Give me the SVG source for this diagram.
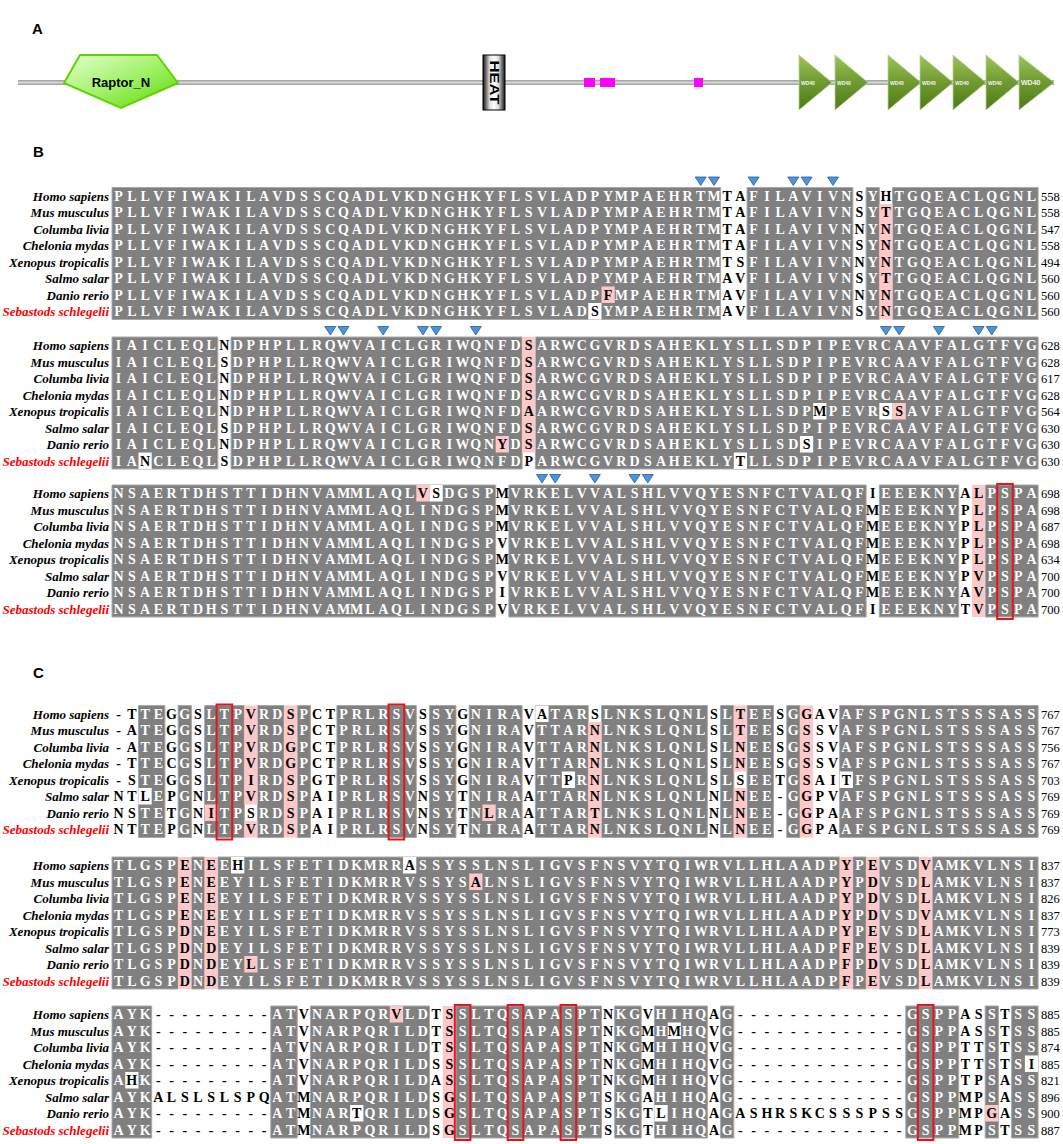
<svg xmlns="http://www.w3.org/2000/svg" xmlns:xlink="http://www.w3.org/1999/xlink" width="1063" height="1144" viewBox="0 0 1063 1144">
<style>
.lab{font:bold 15px "Liberation Sans",Arial,sans-serif;fill:#000}
.n{font:italic bold 13px "Liberation Serif","Times New Roman",serif;text-anchor:end;fill:#000}
.r{fill:#ff0000}
.s{font:bold 14px "Liberation Serif","Times New Roman",serif;fill:#fff;text-anchor:middle}
.k{fill:#000}
.num{font:12.5px "Liberation Serif","Times New Roman",serif;fill:#000}
.g{fill:#808080;stroke:#a8a8a8;stroke-width:1;vector-effect:non-scaling-stroke}
.p{fill:#fcc8c8}
.w{fill:#fff}
.box{fill:none;stroke:#e8141b;stroke-width:2}
.tri{fill:#4a94da;stroke:#2b5c9a;stroke-width:0.8}
.wd{fill:url(#gWD);stroke:#b9d48e;stroke-width:0.8}
.wdt{font:bold 5px "Liberation Sans",Arial,sans-serif;fill:#f2f2f2}
</style>
<defs>
<linearGradient id="gLine" x1="0" y1="0" x2="0" y2="1"><stop offset="0" stop-color="#9a9a9a"/><stop offset="0.5" stop-color="#d6d6d6"/><stop offset="1" stop-color="#9a9a9a"/></linearGradient>
<linearGradient id="gRap" x1="0" y1="0" x2="1" y2="1"><stop offset="0" stop-color="#e4ffd0"/><stop offset="0.55" stop-color="#9cf060"/><stop offset="1" stop-color="#5cd400"/></linearGradient>
<linearGradient id="gHeat" x1="0" y1="0" x2="1" y2="0"><stop offset="0" stop-color="#111"/><stop offset="0.3" stop-color="#ddd"/><stop offset="0.5" stop-color="#fff"/><stop offset="0.7" stop-color="#ddd"/><stop offset="1" stop-color="#111"/></linearGradient>
<linearGradient id="gWD" x1="0" y1="0" x2="0" y2="1"><stop offset="0" stop-color="#9cc45a"/><stop offset="0.5" stop-color="#6f9a30"/><stop offset="1" stop-color="#4d7a18"/></linearGradient>
<path id="tv" class="tri" d="M-5.5,-4 H5.5 L0,4.5 Z"/>
<g id="nm" class="n">
<text x="109" y="13">Homo sapiens</text>
<text x="109" y="29.5">Mus musculus</text>
<text x="109" y="46">Columba livia</text>
<text x="109" y="62.5">Chelonia mydas</text>
<text x="109" y="79">Xenopus tropicalis</text>
<text x="109" y="95.5">Salmo salar</text>
<text x="109" y="112">Danio rerio</text>
<text x="109" y="128.5" class="r">Sebastods schlegelii</text>
</g>
</defs>
<rect width="1063" height="1144" fill="#fff"/>

<!-- Panel A -->
<g id="panelA">
<text class="lab" x="32" y="34">A</text>
<rect id="backbone" x="18" y="80" width="1036" height="5" fill="url(#gLine)"/>
<g id="raptor">
<polygon points="80,55 157,55 178,83 121,108 64,83" fill="url(#gRap)" stroke="#5fd400" stroke-width="2"/>
<text x="121" y="87" text-anchor="middle" style="font:bold 13px 'Liberation Sans',Arial,sans-serif">Raptor_N</text>
</g>
<g id="heat">
<rect x="483" y="55" width="22" height="55" fill="url(#gHeat)" stroke="#000" stroke-width="1"/>
<text transform="translate(494,82.5) rotate(90)" x="0" y="4.5" text-anchor="middle" textLength="44" lengthAdjust="spacingAndGlyphs" style="font:bold 13px 'Liberation Sans',Arial,sans-serif">HEAT</text>
</g>
<g id="motifs" fill="#ff00ff">
<rect x="584" y="78" width="11" height="9"/>
<rect x="600" y="78" width="15" height="9"/>
<rect x="694" y="78" width="9" height="9"/>
</g>
<g id="wd40">
<polygon class="wd" points="799,55 832,82.5 799,110"/>
<polygon class="wd" points="835,55 868,82.5 835,110"/>
<polygon class="wd" points="888,55 921,82.5 888,110"/>
<polygon class="wd" points="920,55 953,82.5 920,110"/>
<polygon class="wd" points="953,55 986,82.5 953,110"/>
<polygon class="wd" points="986,55 1019,82.5 986,110"/>
<polygon class="wd" points="1019,55 1054,82.5 1019,110"/>
<text class="wdt" x="801" y="84.5">WD40</text>
<text class="wdt" x="837" y="84.5">WD40</text>
<text class="wdt" x="890" y="84.5">WD40</text>
<text class="wdt" x="922" y="84.5">WD40</text>
<text class="wdt" x="955" y="84.5">WD40</text>
<text class="wdt" x="988" y="84.5">WD40</text>
<text class="wdt" x="1021" y="85" style="font-size:7px">WD40</text>
</g>
</g>

<text class="lab" x="33" y="157">B</text>
<text class="lab" x="33" y="678">C</text>

<!-- Block B1 -->
<g id="B1" transform="translate(0,187.5)">
<g transform="translate(112,0) scale(13.23,16.5)">
<rect class="g" x="0" y="0" width="46" height="8"/>
<rect class="g" x="48" y="0" width="8" height="8"/>
<rect class="g" x="57" y="0" width="1" height="8"/>
<rect class="g" x="59" y="0" width="11" height="8"/>
<rect class="p" x="58" y="1" width="1" height="7"/>
<rect class="p" x="37" y="6" width="1" height="1"/>
<rect class="w" x="36" y="7" width="1" height="1"/>
</g>
<use href="#nm"/>
<g id="B1tri">
<use href="#tv" x="700.7" y="-6.5"/><use href="#tv" x="714" y="-6.5"/><use href="#tv" x="753.6" y="-6.5"/><use href="#tv" x="793.3" y="-6.5"/><use href="#tv" x="806.6" y="-6.5"/><use href="#tv" x="833" y="-6.5"/>
</g>
<text class="s" y="13" x="118.6 131.8 145.1 158.3 171.5 184.8 198 211.2 224.4 237.7 250.9 264.1 277.4 290.6 303.8 317.1 330.3 343.5 356.7 370 383.2 396.4 409.7 422.9 436.1 449.4 462.6 475.8 489 502.3 515.5 528.7 542 555.2 568.4 581.7 594.9 608.1 621.3 634.6 647.8 661 674.3 687.5 700.7 714 727.2 740.4 753.6 766.9 780.1 793.3 806.6 819.8 833 846.3 859.5 872.7 885.9 899.2 912.4 925.6 938.9 952.1 965.3 978.6 991.8 1005 1018.2 1031.5">PLLVFIWAKILAVDSSCQADLVKDNGHKYFLSVLADPYMPAEHRTM<tspan class="k">TA</tspan>FILAVIVN<tspan class="k">S</tspan>Y<tspan class="k">H</tspan>TGQEACLQGNL</text>
<text class="s" y="29.5" x="118.6 131.8 145.1 158.3 171.5 184.8 198 211.2 224.4 237.7 250.9 264.1 277.4 290.6 303.8 317.1 330.3 343.5 356.7 370 383.2 396.4 409.7 422.9 436.1 449.4 462.6 475.8 489 502.3 515.5 528.7 542 555.2 568.4 581.7 594.9 608.1 621.3 634.6 647.8 661 674.3 687.5 700.7 714 727.2 740.4 753.6 766.9 780.1 793.3 806.6 819.8 833 846.3 859.5 872.7 885.9 899.2 912.4 925.6 938.9 952.1 965.3 978.6 991.8 1005 1018.2 1031.5">PLLVFIWAKILAVDSSCQADLVKDNGHKYFLSVLADPYMPAEHRTM<tspan class="k">TA</tspan>FILAVIVN<tspan class="k">S</tspan>Y<tspan class="k">T</tspan>TGQEACLQGNL</text>
<text class="s" y="46" x="118.6 131.8 145.1 158.3 171.5 184.8 198 211.2 224.4 237.7 250.9 264.1 277.4 290.6 303.8 317.1 330.3 343.5 356.7 370 383.2 396.4 409.7 422.9 436.1 449.4 462.6 475.8 489 502.3 515.5 528.7 542 555.2 568.4 581.7 594.9 608.1 621.3 634.6 647.8 661 674.3 687.5 700.7 714 727.2 740.4 753.6 766.9 780.1 793.3 806.6 819.8 833 846.3 859.5 872.7 885.9 899.2 912.4 925.6 938.9 952.1 965.3 978.6 991.8 1005 1018.2 1031.5">PLLVFIWAKILAVDSSCQADLVKDNGHKYFLSVLADPYMPAEHRTM<tspan class="k">TA</tspan>FILAVIVN<tspan class="k">N</tspan>Y<tspan class="k">N</tspan>TGQEACLQGNL</text>
<text class="s" y="62.5" x="118.6 131.8 145.1 158.3 171.5 184.8 198 211.2 224.4 237.7 250.9 264.1 277.4 290.6 303.8 317.1 330.3 343.5 356.7 370 383.2 396.4 409.7 422.9 436.1 449.4 462.6 475.8 489 502.3 515.5 528.7 542 555.2 568.4 581.7 594.9 608.1 621.3 634.6 647.8 661 674.3 687.5 700.7 714 727.2 740.4 753.6 766.9 780.1 793.3 806.6 819.8 833 846.3 859.5 872.7 885.9 899.2 912.4 925.6 938.9 952.1 965.3 978.6 991.8 1005 1018.2 1031.5">PLLVFIWAKILAVDSSCQADLVKDNGHKYFLSVLADPYMPAEHRTM<tspan class="k">TA</tspan>FILAVIVN<tspan class="k">S</tspan>Y<tspan class="k">N</tspan>TGQEACLQGNL</text>
<text class="s" y="79" x="118.6 131.8 145.1 158.3 171.5 184.8 198 211.2 224.4 237.7 250.9 264.1 277.4 290.6 303.8 317.1 330.3 343.5 356.7 370 383.2 396.4 409.7 422.9 436.1 449.4 462.6 475.8 489 502.3 515.5 528.7 542 555.2 568.4 581.7 594.9 608.1 621.3 634.6 647.8 661 674.3 687.5 700.7 714 727.2 740.4 753.6 766.9 780.1 793.3 806.6 819.8 833 846.3 859.5 872.7 885.9 899.2 912.4 925.6 938.9 952.1 965.3 978.6 991.8 1005 1018.2 1031.5">PLLVFIWAKILAVDSSCQADLVKDNGHKYFLSVLADPYMPAEHRTM<tspan class="k">TS</tspan>FILAVIVN<tspan class="k">N</tspan>Y<tspan class="k">N</tspan>TGQEACLQGNL</text>
<text class="s" y="95.5" x="118.6 131.8 145.1 158.3 171.5 184.8 198 211.2 224.4 237.7 250.9 264.1 277.4 290.6 303.8 317.1 330.3 343.5 356.7 370 383.2 396.4 409.7 422.9 436.1 449.4 462.6 475.8 489 502.3 515.5 528.7 542 555.2 568.4 581.7 594.9 608.1 621.3 634.6 647.8 661 674.3 687.5 700.7 714 727.2 740.4 753.6 766.9 780.1 793.3 806.6 819.8 833 846.3 859.5 872.7 885.9 899.2 912.4 925.6 938.9 952.1 965.3 978.6 991.8 1005 1018.2 1031.5">PLLVFIWAKILAVDSSCQADLVKDNGHKYFLSVLADPYMPAEHRTM<tspan class="k">AV</tspan>FILAVIVN<tspan class="k">S</tspan>Y<tspan class="k">T</tspan>TGQEACLQGNL</text>
<text class="s" y="112" x="118.6 131.8 145.1 158.3 171.5 184.8 198 211.2 224.4 237.7 250.9 264.1 277.4 290.6 303.8 317.1 330.3 343.5 356.7 370 383.2 396.4 409.7 422.9 436.1 449.4 462.6 475.8 489 502.3 515.5 528.7 542 555.2 568.4 581.7 594.9 608.1 621.3 634.6 647.8 661 674.3 687.5 700.7 714 727.2 740.4 753.6 766.9 780.1 793.3 806.6 819.8 833 846.3 859.5 872.7 885.9 899.2 912.4 925.6 938.9 952.1 965.3 978.6 991.8 1005 1018.2 1031.5">PLLVFIWAKILAVDSSCQADLVKDNGHKYFLSVLADP<tspan class="k">F</tspan>MPAEHRTM<tspan class="k">AV</tspan>FILAVIVN<tspan class="k">N</tspan>Y<tspan class="k">N</tspan>TGQEACLQGNL</text>
<text class="s" y="128.5" x="118.6 131.8 145.1 158.3 171.5 184.8 198 211.2 224.4 237.7 250.9 264.1 277.4 290.6 303.8 317.1 330.3 343.5 356.7 370 383.2 396.4 409.7 422.9 436.1 449.4 462.6 475.8 489 502.3 515.5 528.7 542 555.2 568.4 581.7 594.9 608.1 621.3 634.6 647.8 661 674.3 687.5 700.7 714 727.2 740.4 753.6 766.9 780.1 793.3 806.6 819.8 833 846.3 859.5 872.7 885.9 899.2 912.4 925.6 938.9 952.1 965.3 978.6 991.8 1005 1018.2 1031.5">PLLVFIWAKILAVDSSCQADLVKDNGHKYFLSVLAD<tspan class="k">S</tspan>YMPAEHRTM<tspan class="k">AV</tspan>FILAVIVN<tspan class="k">S</tspan>Y<tspan class="k">N</tspan>TGQEACLQGNL</text>
<g class="num"><text x="1041" y="13">558</text><text x="1041" y="29.5">558</text><text x="1041" y="46">547</text><text x="1041" y="62.5">558</text><text x="1041" y="79">494</text><text x="1041" y="95.5">560</text><text x="1041" y="112">560</text><text x="1041" y="128.5">560</text></g>
</g>

<!-- Block B2 -->
<g id="B2" transform="translate(0,337)">
<g transform="translate(112,0) scale(13.23,16.5)">
<rect class="g" x="0" y="0" width="8" height="8"/>
<rect class="g" x="9" y="0" width="22" height="8"/>
<rect class="g" x="32" y="0" width="38" height="8"/>
<rect class="p" x="31" y="0" width="1" height="7"/>
<rect class="w" x="53" y="4" width="1" height="1"/>
<rect class="w" x="58" y="4" width="1" height="1"/>
<rect class="p" x="59" y="4" width="1" height="1"/>
<rect class="p" x="29" y="6" width="1" height="1"/>
<rect class="w" x="52" y="6" width="1" height="1"/>
<rect class="w" x="2" y="7" width="1" height="1"/>
<rect class="w" x="47" y="7" width="1" height="1"/>
</g>
<use href="#nm"/>
<g id="B2tri">
<use href="#tv" x="330.3" y="-6.5"/><use href="#tv" x="343.5" y="-6.5"/><use href="#tv" x="383.2" y="-6.5"/><use href="#tv" x="422.9" y="-6.5"/><use href="#tv" x="436.1" y="-6.5"/><use href="#tv" x="475.8" y="-6.5"/><use href="#tv" x="885.9" y="-6.5"/><use href="#tv" x="899.2" y="-6.5"/><use href="#tv" x="938.9" y="-6.5"/><use href="#tv" x="978.6" y="-6.5"/><use href="#tv" x="991.8" y="-6.5"/>
</g>
<text class="s" y="13" x="118.6 131.8 145.1 158.3 171.5 184.8 198 211.2 224.4 237.7 250.9 264.1 277.4 290.6 303.8 317.1 330.3 343.5 356.7 370 383.2 396.4 409.7 422.9 436.1 449.4 462.6 475.8 489 502.3 515.5 528.7 542 555.2 568.4 581.7 594.9 608.1 621.3 634.6 647.8 661 674.3 687.5 700.7 714 727.2 740.4 753.6 766.9 780.1 793.3 806.6 819.8 833 846.3 859.5 872.7 885.9 899.2 912.4 925.6 938.9 952.1 965.3 978.6 991.8 1005 1018.2 1031.5">IAICLEQL<tspan class="k">N</tspan>DPHPLLRQWVAICLGRIWQNFD<tspan class="k">S</tspan>ARWCGVRDSAHEKLYSLLSDPIPEVRCAAVFALGTFVG</text>
<text class="s" y="29.5" x="118.6 131.8 145.1 158.3 171.5 184.8 198 211.2 224.4 237.7 250.9 264.1 277.4 290.6 303.8 317.1 330.3 343.5 356.7 370 383.2 396.4 409.7 422.9 436.1 449.4 462.6 475.8 489 502.3 515.5 528.7 542 555.2 568.4 581.7 594.9 608.1 621.3 634.6 647.8 661 674.3 687.5 700.7 714 727.2 740.4 753.6 766.9 780.1 793.3 806.6 819.8 833 846.3 859.5 872.7 885.9 899.2 912.4 925.6 938.9 952.1 965.3 978.6 991.8 1005 1018.2 1031.5">IAICLEQL<tspan class="k">S</tspan>DPHPLLRQWVAICLGRIWQNFD<tspan class="k">S</tspan>ARWCGVRDSAHEKLYSLLSDPIPEVRCAAVFALGTFVG</text>
<text class="s" y="46" x="118.6 131.8 145.1 158.3 171.5 184.8 198 211.2 224.4 237.7 250.9 264.1 277.4 290.6 303.8 317.1 330.3 343.5 356.7 370 383.2 396.4 409.7 422.9 436.1 449.4 462.6 475.8 489 502.3 515.5 528.7 542 555.2 568.4 581.7 594.9 608.1 621.3 634.6 647.8 661 674.3 687.5 700.7 714 727.2 740.4 753.6 766.9 780.1 793.3 806.6 819.8 833 846.3 859.5 872.7 885.9 899.2 912.4 925.6 938.9 952.1 965.3 978.6 991.8 1005 1018.2 1031.5">IAICLEQL<tspan class="k">N</tspan>DPHPLLRQWVAICLGRIWQNFD<tspan class="k">S</tspan>ARWCGVRDSAHEKLYSLLSDPIPEVRCAAVFALGTFVG</text>
<text class="s" y="62.5" x="118.6 131.8 145.1 158.3 171.5 184.8 198 211.2 224.4 237.7 250.9 264.1 277.4 290.6 303.8 317.1 330.3 343.5 356.7 370 383.2 396.4 409.7 422.9 436.1 449.4 462.6 475.8 489 502.3 515.5 528.7 542 555.2 568.4 581.7 594.9 608.1 621.3 634.6 647.8 661 674.3 687.5 700.7 714 727.2 740.4 753.6 766.9 780.1 793.3 806.6 819.8 833 846.3 859.5 872.7 885.9 899.2 912.4 925.6 938.9 952.1 965.3 978.6 991.8 1005 1018.2 1031.5">IAICLEQL<tspan class="k">N</tspan>DPHPLLRQWVAICLGRIWQNFD<tspan class="k">S</tspan>ARWCGVRDSAHEKLYSLLSDPIPEVRCAAVFALGTFVG</text>
<text class="s" y="79" x="118.6 131.8 145.1 158.3 171.5 184.8 198 211.2 224.4 237.7 250.9 264.1 277.4 290.6 303.8 317.1 330.3 343.5 356.7 370 383.2 396.4 409.7 422.9 436.1 449.4 462.6 475.8 489 502.3 515.5 528.7 542 555.2 568.4 581.7 594.9 608.1 621.3 634.6 647.8 661 674.3 687.5 700.7 714 727.2 740.4 753.6 766.9 780.1 793.3 806.6 819.8 833 846.3 859.5 872.7 885.9 899.2 912.4 925.6 938.9 952.1 965.3 978.6 991.8 1005 1018.2 1031.5">IAICLEQL<tspan class="k">N</tspan>DPHPLLRQWVAICLGRIWQNFD<tspan class="k">A</tspan>ARWCGVRDSAHEKLYSLLSDP<tspan class="k">M</tspan>PEVR<tspan class="k">SS</tspan>AVFALGTFVG</text>
<text class="s" y="95.5" x="118.6 131.8 145.1 158.3 171.5 184.8 198 211.2 224.4 237.7 250.9 264.1 277.4 290.6 303.8 317.1 330.3 343.5 356.7 370 383.2 396.4 409.7 422.9 436.1 449.4 462.6 475.8 489 502.3 515.5 528.7 542 555.2 568.4 581.7 594.9 608.1 621.3 634.6 647.8 661 674.3 687.5 700.7 714 727.2 740.4 753.6 766.9 780.1 793.3 806.6 819.8 833 846.3 859.5 872.7 885.9 899.2 912.4 925.6 938.9 952.1 965.3 978.6 991.8 1005 1018.2 1031.5">IAICLEQL<tspan class="k">S</tspan>DPHPLLRQWVAICLGRIWQNFD<tspan class="k">S</tspan>ARWCGVRDSAHEKLYSLLSDPIPEVRCAAVFALGTFVG</text>
<text class="s" y="112" x="118.6 131.8 145.1 158.3 171.5 184.8 198 211.2 224.4 237.7 250.9 264.1 277.4 290.6 303.8 317.1 330.3 343.5 356.7 370 383.2 396.4 409.7 422.9 436.1 449.4 462.6 475.8 489 502.3 515.5 528.7 542 555.2 568.4 581.7 594.9 608.1 621.3 634.6 647.8 661 674.3 687.5 700.7 714 727.2 740.4 753.6 766.9 780.1 793.3 806.6 819.8 833 846.3 859.5 872.7 885.9 899.2 912.4 925.6 938.9 952.1 965.3 978.6 991.8 1005 1018.2 1031.5">IAICLEQL<tspan class="k">N</tspan>DPHPLLRQWVAICLGRIWQN<tspan class="k">Y</tspan>D<tspan class="k">S</tspan>ARWCGVRDSAHEKLYSLLSD<tspan class="k">S</tspan>IPEVRCAAVFALGTFVG</text>
<text class="s" y="128.5" x="118.6 131.8 145.1 158.3 171.5 184.8 198 211.2 224.4 237.7 250.9 264.1 277.4 290.6 303.8 317.1 330.3 343.5 356.7 370 383.2 396.4 409.7 422.9 436.1 449.4 462.6 475.8 489 502.3 515.5 528.7 542 555.2 568.4 581.7 594.9 608.1 621.3 634.6 647.8 661 674.3 687.5 700.7 714 727.2 740.4 753.6 766.9 780.1 793.3 806.6 819.8 833 846.3 859.5 872.7 885.9 899.2 912.4 925.6 938.9 952.1 965.3 978.6 991.8 1005 1018.2 1031.5">IA<tspan class="k">N</tspan>CLEQL<tspan class="k">S</tspan>DPHPLLRQWVAICLGRIWQNFD<tspan class="k">P</tspan>ARWCGVRDSAHEKLY<tspan class="k">T</tspan>LLSDPIPEVRCAAVFALGTFVG</text>
<g class="num"><text x="1041" y="13">628</text><text x="1041" y="29.5">628</text><text x="1041" y="46">617</text><text x="1041" y="62.5">628</text><text x="1041" y="79">564</text><text x="1041" y="95.5">630</text><text x="1041" y="112">630</text><text x="1041" y="128.5">630</text></g>
</g>

<!-- Block B3 -->
<g id="B3" transform="translate(0,485)">
<g transform="translate(112,0) scale(13.23,16.5)">
<rect class="g" x="0" y="0" width="29" height="8"/>
<rect class="g" x="30" y="0" width="27" height="8"/>
<rect class="g" x="58" y="0" width="6" height="8"/>
<rect class="g" x="66" y="0" width="4" height="8"/>
<rect class="p" x="65" y="0" width="1" height="8"/>
<rect class="p" x="23" y="0" width="1" height="1"/>
<rect class="w" x="24" y="0" width="1" height="1"/>
</g>
<use href="#nm"/>
<g id="B3tri">
<use href="#tv" x="542" y="-6.5"/><use href="#tv" x="555.2" y="-6.5"/><use href="#tv" x="594.9" y="-6.5"/><use href="#tv" x="634.6" y="-6.5"/><use href="#tv" x="647.8" y="-6.5"/>
</g>
<text class="s" y="13" x="118.6 131.8 145.1 158.3 171.5 184.8 198 211.2 224.4 237.7 250.9 264.1 277.4 290.6 303.8 317.1 330.3 343.5 356.7 370 383.2 396.4 409.7 422.9 436.1 449.4 462.6 475.8 489 502.3 515.5 528.7 542 555.2 568.4 581.7 594.9 608.1 621.3 634.6 647.8 661 674.3 687.5 700.7 714 727.2 740.4 753.6 766.9 780.1 793.3 806.6 819.8 833 846.3 859.5 872.7 885.9 899.2 912.4 925.6 938.9 952.1 965.3 978.6 991.8 1005 1018.2 1031.5">NSAERTDHSTTIDHNVAMMLAQL<tspan class="k">VS</tspan>DGSP<tspan class="k">M</tspan>VRKELVVALSHLVVQYESNFCTVALQF<tspan class="k">I</tspan>EEEKNY<tspan class="k">AL</tspan>PSPA</text>
<text class="s" y="29.5" x="118.6 131.8 145.1 158.3 171.5 184.8 198 211.2 224.4 237.7 250.9 264.1 277.4 290.6 303.8 317.1 330.3 343.5 356.7 370 383.2 396.4 409.7 422.9 436.1 449.4 462.6 475.8 489 502.3 515.5 528.7 542 555.2 568.4 581.7 594.9 608.1 621.3 634.6 647.8 661 674.3 687.5 700.7 714 727.2 740.4 753.6 766.9 780.1 793.3 806.6 819.8 833 846.3 859.5 872.7 885.9 899.2 912.4 925.6 938.9 952.1 965.3 978.6 991.8 1005 1018.2 1031.5">NSAERTDHSTTIDHNVAMMLAQLINDGSP<tspan class="k">M</tspan>VRKELVVALSHLVVQYESNFCTVALQF<tspan class="k">M</tspan>EEEKNY<tspan class="k">PL</tspan>PSPA</text>
<text class="s" y="46" x="118.6 131.8 145.1 158.3 171.5 184.8 198 211.2 224.4 237.7 250.9 264.1 277.4 290.6 303.8 317.1 330.3 343.5 356.7 370 383.2 396.4 409.7 422.9 436.1 449.4 462.6 475.8 489 502.3 515.5 528.7 542 555.2 568.4 581.7 594.9 608.1 621.3 634.6 647.8 661 674.3 687.5 700.7 714 727.2 740.4 753.6 766.9 780.1 793.3 806.6 819.8 833 846.3 859.5 872.7 885.9 899.2 912.4 925.6 938.9 952.1 965.3 978.6 991.8 1005 1018.2 1031.5">NSAERTDHSTTIDHNVAMMLAQLINDGSP<tspan class="k">M</tspan>VRKELVVALSHLVVQYESNFCTVALQF<tspan class="k">M</tspan>EEEKNY<tspan class="k">PL</tspan>PSPA</text>
<text class="s" y="62.5" x="118.6 131.8 145.1 158.3 171.5 184.8 198 211.2 224.4 237.7 250.9 264.1 277.4 290.6 303.8 317.1 330.3 343.5 356.7 370 383.2 396.4 409.7 422.9 436.1 449.4 462.6 475.8 489 502.3 515.5 528.7 542 555.2 568.4 581.7 594.9 608.1 621.3 634.6 647.8 661 674.3 687.5 700.7 714 727.2 740.4 753.6 766.9 780.1 793.3 806.6 819.8 833 846.3 859.5 872.7 885.9 899.2 912.4 925.6 938.9 952.1 965.3 978.6 991.8 1005 1018.2 1031.5">NSAERTDHSTTIDHNVAMMLAQLINDGSP<tspan class="k">V</tspan>VRKELVVALSHLVVQYESNFCTVALQF<tspan class="k">M</tspan>EEEKNY<tspan class="k">PL</tspan>PSPA</text>
<text class="s" y="79" x="118.6 131.8 145.1 158.3 171.5 184.8 198 211.2 224.4 237.7 250.9 264.1 277.4 290.6 303.8 317.1 330.3 343.5 356.7 370 383.2 396.4 409.7 422.9 436.1 449.4 462.6 475.8 489 502.3 515.5 528.7 542 555.2 568.4 581.7 594.9 608.1 621.3 634.6 647.8 661 674.3 687.5 700.7 714 727.2 740.4 753.6 766.9 780.1 793.3 806.6 819.8 833 846.3 859.5 872.7 885.9 899.2 912.4 925.6 938.9 952.1 965.3 978.6 991.8 1005 1018.2 1031.5">NSAERTDHSTTIDHNVAMMLAQLINDGSP<tspan class="k">M</tspan>VRKELVVALSHLVVQYESNFCTVALQF<tspan class="k">M</tspan>EEEKNY<tspan class="k">PL</tspan>PSPA</text>
<text class="s" y="95.5" x="118.6 131.8 145.1 158.3 171.5 184.8 198 211.2 224.4 237.7 250.9 264.1 277.4 290.6 303.8 317.1 330.3 343.5 356.7 370 383.2 396.4 409.7 422.9 436.1 449.4 462.6 475.8 489 502.3 515.5 528.7 542 555.2 568.4 581.7 594.9 608.1 621.3 634.6 647.8 661 674.3 687.5 700.7 714 727.2 740.4 753.6 766.9 780.1 793.3 806.6 819.8 833 846.3 859.5 872.7 885.9 899.2 912.4 925.6 938.9 952.1 965.3 978.6 991.8 1005 1018.2 1031.5">NSAERTDHSTTIDHNVAMMLAQLINDGSP<tspan class="k">V</tspan>VRKELVVALSHLVVQYESNFCTVALQF<tspan class="k">M</tspan>EEEKNY<tspan class="k">PV</tspan>PSPA</text>
<text class="s" y="112" x="118.6 131.8 145.1 158.3 171.5 184.8 198 211.2 224.4 237.7 250.9 264.1 277.4 290.6 303.8 317.1 330.3 343.5 356.7 370 383.2 396.4 409.7 422.9 436.1 449.4 462.6 475.8 489 502.3 515.5 528.7 542 555.2 568.4 581.7 594.9 608.1 621.3 634.6 647.8 661 674.3 687.5 700.7 714 727.2 740.4 753.6 766.9 780.1 793.3 806.6 819.8 833 846.3 859.5 872.7 885.9 899.2 912.4 925.6 938.9 952.1 965.3 978.6 991.8 1005 1018.2 1031.5">NSAERTDHSTTIDHNVAMMLAQLINDGSP<tspan class="k">I</tspan>VRKELVVALSHLVVQYESNFCTVALQF<tspan class="k">M</tspan>EEEKNY<tspan class="k">AV</tspan>PSPA</text>
<text class="s" y="128.5" x="118.6 131.8 145.1 158.3 171.5 184.8 198 211.2 224.4 237.7 250.9 264.1 277.4 290.6 303.8 317.1 330.3 343.5 356.7 370 383.2 396.4 409.7 422.9 436.1 449.4 462.6 475.8 489 502.3 515.5 528.7 542 555.2 568.4 581.7 594.9 608.1 621.3 634.6 647.8 661 674.3 687.5 700.7 714 727.2 740.4 753.6 766.9 780.1 793.3 806.6 819.8 833 846.3 859.5 872.7 885.9 899.2 912.4 925.6 938.9 952.1 965.3 978.6 991.8 1005 1018.2 1031.5">NSAERTDHSTTIDHNVAMMLAQLINDGSP<tspan class="k">V</tspan>VRKELVVALSHLVVQYESNFCTVALQF<tspan class="k">I</tspan>EEEKNY<tspan class="k">TV</tspan>PSPA</text>
<g class="num"><text x="1041" y="13">698</text><text x="1041" y="29.5">698</text><text x="1041" y="46">687</text><text x="1041" y="62.5">698</text><text x="1041" y="79">634</text><text x="1041" y="95.5">700</text><text x="1041" y="112">700</text><text x="1041" y="128.5">700</text></g>
<rect class="box" x="997.2" y="-1" width="15.6" height="135"/>
</g>

<!-- Block C1 -->
<g id="C1" transform="translate(0,705.5)">
<g transform="translate(112,0) scale(13.23,16.5)">
<rect class="g" x="2" y="0" width="2" height="8"/>
<rect class="g" x="5" y="0" width="1" height="8"/>
<rect class="g" x="7" y="0" width="3" height="8"/>
<rect class="g" x="11" y="0" width="2" height="8"/>
<rect class="g" x="14" y="0" width="1" height="8"/>
<rect class="g" x="17" y="0" width="6" height="8"/>
<rect class="g" x="24" y="0" width="2" height="8"/>
<rect class="g" x="27" y="0" width="4" height="8"/>
<rect class="g" x="32" y="0" width="4" height="8"/>
<rect class="g" x="37" y="0" width="8" height="8"/>
<rect class="g" x="46" y="0" width="1" height="8"/>
<rect class="g" x="48" y="0" width="2" height="8"/>
<rect class="g" x="51" y="0" width="1" height="8"/>
<rect class="g" x="55" y="0" width="15" height="8"/>
<rect class="p" x="10" y="0" width="1" height="6"/>
<rect class="p" x="10" y="7" width="1" height="1"/>
<rect class="p" x="13" y="0" width="1" height="8"/>
<rect class="p" x="36" y="1" width="1" height="7"/>
<rect class="p" x="47" y="0" width="1" height="4"/>
<rect class="p" x="47" y="5" width="1" height="3"/>
<rect class="p" x="52" y="0" width="1" height="8"/>
<rect class="w" x="2" y="5" width="1" height="1"/>
<rect class="p" x="7" y="6" width="1" height="1"/>
<rect class="p" x="28" y="6" width="1" height="1"/>
<rect class="w" x="32" y="0" width="1" height="1"/>
<rect class="w" x="34" y="4" width="1" height="1"/>
<rect class="w" x="55" y="4" width="1" height="1"/>
</g>
<use href="#nm"/>
<text class="s" y="13" x="118.6 131.8 145.1 158.3 171.5 184.8 198 211.2 224.4 237.7 250.9 264.1 277.4 290.6 303.8 317.1 330.3 343.5 356.7 370 383.2 396.4 409.7 422.9 436.1 449.4 462.6 475.8 489 502.3 515.5 528.7 542 555.2 568.4 581.7 594.9 608.1 621.3 634.6 647.8 661 674.3 687.5 700.7 714 727.2 740.4 753.6 766.9 780.1 793.3 806.6 819.8 833 846.3 859.5 872.7 885.9 899.2 912.4 925.6 938.9 952.1 965.3 978.6 991.8 1005 1018.2 1031.5"><tspan class="k">-T</tspan>TE<tspan class="k">G</tspan>G<tspan class="k">S</tspan>LTP<tspan class="k">V</tspan>RD<tspan class="k">S</tspan>P<tspan class="k">CT</tspan>PRLRSV<tspan class="k">S</tspan>SY<tspan class="k">G</tspan>NIRA<tspan class="k">VA</tspan>TAR<tspan class="k">S</tspan>LNKSLQNL<tspan class="k">S</tspan>L<tspan class="k">T</tspan>EE<tspan class="k">S</tspan>G<tspan class="k">GAV</tspan>AFSPGNLSTSSSASS</text>
<text class="s" y="29.5" x="118.6 131.8 145.1 158.3 171.5 184.8 198 211.2 224.4 237.7 250.9 264.1 277.4 290.6 303.8 317.1 330.3 343.5 356.7 370 383.2 396.4 409.7 422.9 436.1 449.4 462.6 475.8 489 502.3 515.5 528.7 542 555.2 568.4 581.7 594.9 608.1 621.3 634.6 647.8 661 674.3 687.5 700.7 714 727.2 740.4 753.6 766.9 780.1 793.3 806.6 819.8 833 846.3 859.5 872.7 885.9 899.2 912.4 925.6 938.9 952.1 965.3 978.6 991.8 1005 1018.2 1031.5"><tspan class="k">-A</tspan>TE<tspan class="k">G</tspan>G<tspan class="k">S</tspan>LTP<tspan class="k">V</tspan>RD<tspan class="k">S</tspan>P<tspan class="k">CT</tspan>PRLRSV<tspan class="k">S</tspan>SY<tspan class="k">G</tspan>NIRA<tspan class="k">V</tspan>TTAR<tspan class="k">N</tspan>LNKSLQNL<tspan class="k">S</tspan>L<tspan class="k">T</tspan>EE<tspan class="k">S</tspan>G<tspan class="k">SSV</tspan>AFSPGNLSTSSSASS</text>
<text class="s" y="46" x="118.6 131.8 145.1 158.3 171.5 184.8 198 211.2 224.4 237.7 250.9 264.1 277.4 290.6 303.8 317.1 330.3 343.5 356.7 370 383.2 396.4 409.7 422.9 436.1 449.4 462.6 475.8 489 502.3 515.5 528.7 542 555.2 568.4 581.7 594.9 608.1 621.3 634.6 647.8 661 674.3 687.5 700.7 714 727.2 740.4 753.6 766.9 780.1 793.3 806.6 819.8 833 846.3 859.5 872.7 885.9 899.2 912.4 925.6 938.9 952.1 965.3 978.6 991.8 1005 1018.2 1031.5"><tspan class="k">-A</tspan>TE<tspan class="k">G</tspan>G<tspan class="k">S</tspan>LTP<tspan class="k">V</tspan>RD<tspan class="k">G</tspan>P<tspan class="k">CT</tspan>PRLRSV<tspan class="k">S</tspan>SY<tspan class="k">G</tspan>NIRA<tspan class="k">V</tspan>TTAR<tspan class="k">N</tspan>LNKSLQNL<tspan class="k">S</tspan>L<tspan class="k">N</tspan>EE<tspan class="k">S</tspan>G<tspan class="k">SSV</tspan>AFSPGNLSTSSSASS</text>
<text class="s" y="62.5" x="118.6 131.8 145.1 158.3 171.5 184.8 198 211.2 224.4 237.7 250.9 264.1 277.4 290.6 303.8 317.1 330.3 343.5 356.7 370 383.2 396.4 409.7 422.9 436.1 449.4 462.6 475.8 489 502.3 515.5 528.7 542 555.2 568.4 581.7 594.9 608.1 621.3 634.6 647.8 661 674.3 687.5 700.7 714 727.2 740.4 753.6 766.9 780.1 793.3 806.6 819.8 833 846.3 859.5 872.7 885.9 899.2 912.4 925.6 938.9 952.1 965.3 978.6 991.8 1005 1018.2 1031.5"><tspan class="k">-T</tspan>TE<tspan class="k">C</tspan>G<tspan class="k">S</tspan>LTP<tspan class="k">V</tspan>RD<tspan class="k">G</tspan>P<tspan class="k">CT</tspan>PRLRSV<tspan class="k">S</tspan>SY<tspan class="k">G</tspan>NIRA<tspan class="k">V</tspan>TTAR<tspan class="k">N</tspan>LNKSLQNL<tspan class="k">S</tspan>L<tspan class="k">N</tspan>EE<tspan class="k">S</tspan>G<tspan class="k">SSV</tspan>AFSPGNLSTSSSASS</text>
<text class="s" y="79" x="118.6 131.8 145.1 158.3 171.5 184.8 198 211.2 224.4 237.7 250.9 264.1 277.4 290.6 303.8 317.1 330.3 343.5 356.7 370 383.2 396.4 409.7 422.9 436.1 449.4 462.6 475.8 489 502.3 515.5 528.7 542 555.2 568.4 581.7 594.9 608.1 621.3 634.6 647.8 661 674.3 687.5 700.7 714 727.2 740.4 753.6 766.9 780.1 793.3 806.6 819.8 833 846.3 859.5 872.7 885.9 899.2 912.4 925.6 938.9 952.1 965.3 978.6 991.8 1005 1018.2 1031.5"><tspan class="k">-S</tspan>TE<tspan class="k">G</tspan>G<tspan class="k">S</tspan>LTP<tspan class="k">I</tspan>RD<tspan class="k">S</tspan>P<tspan class="k">GT</tspan>PRLRSV<tspan class="k">S</tspan>SY<tspan class="k">G</tspan>NIRA<tspan class="k">V</tspan>TT<tspan class="k">P</tspan>R<tspan class="k">N</tspan>LNKSLQNL<tspan class="k">S</tspan>L<tspan class="k">S</tspan>EE<tspan class="k">T</tspan>G<tspan class="k">SAIT</tspan>FSPGNLSTSSSASS</text>
<text class="s" y="95.5" x="118.6 131.8 145.1 158.3 171.5 184.8 198 211.2 224.4 237.7 250.9 264.1 277.4 290.6 303.8 317.1 330.3 343.5 356.7 370 383.2 396.4 409.7 422.9 436.1 449.4 462.6 475.8 489 502.3 515.5 528.7 542 555.2 568.4 581.7 594.9 608.1 621.3 634.6 647.8 661 674.3 687.5 700.7 714 727.2 740.4 753.6 766.9 780.1 793.3 806.6 819.8 833 846.3 859.5 872.7 885.9 899.2 912.4 925.6 938.9 952.1 965.3 978.6 991.8 1005 1018.2 1031.5"><tspan class="k">NTL</tspan>E<tspan class="k">P</tspan>G<tspan class="k">N</tspan>LTP<tspan class="k">V</tspan>RD<tspan class="k">S</tspan>P<tspan class="k">AI</tspan>PRLRSV<tspan class="k">N</tspan>SY<tspan class="k">T</tspan>NIRA<tspan class="k">A</tspan>TTAR<tspan class="k">N</tspan>LNKSLQNL<tspan class="k">N</tspan>L<tspan class="k">N</tspan>EE<tspan class="k">-</tspan>G<tspan class="k">GPV</tspan>AFSPGNLSTSSSASS</text>
<text class="s" y="112" x="118.6 131.8 145.1 158.3 171.5 184.8 198 211.2 224.4 237.7 250.9 264.1 277.4 290.6 303.8 317.1 330.3 343.5 356.7 370 383.2 396.4 409.7 422.9 436.1 449.4 462.6 475.8 489 502.3 515.5 528.7 542 555.2 568.4 581.7 594.9 608.1 621.3 634.6 647.8 661 674.3 687.5 700.7 714 727.2 740.4 753.6 766.9 780.1 793.3 806.6 819.8 833 846.3 859.5 872.7 885.9 899.2 912.4 925.6 938.9 952.1 965.3 978.6 991.8 1005 1018.2 1031.5"><tspan class="k">NS</tspan>TE<tspan class="k">T</tspan>G<tspan class="k">NI</tspan>TP<tspan class="k">S</tspan>RD<tspan class="k">S</tspan>P<tspan class="k">AI</tspan>PRLRSV<tspan class="k">N</tspan>SY<tspan class="k">T</tspan>N<tspan class="k">L</tspan>RA<tspan class="k">A</tspan>TTAR<tspan class="k">T</tspan>LNKSLQNL<tspan class="k">N</tspan>L<tspan class="k">N</tspan>EE<tspan class="k">-</tspan>G<tspan class="k">GPA</tspan>AFSPGNLSTSSSASS</text>
<text class="s" y="128.5" x="118.6 131.8 145.1 158.3 171.5 184.8 198 211.2 224.4 237.7 250.9 264.1 277.4 290.6 303.8 317.1 330.3 343.5 356.7 370 383.2 396.4 409.7 422.9 436.1 449.4 462.6 475.8 489 502.3 515.5 528.7 542 555.2 568.4 581.7 594.9 608.1 621.3 634.6 647.8 661 674.3 687.5 700.7 714 727.2 740.4 753.6 766.9 780.1 793.3 806.6 819.8 833 846.3 859.5 872.7 885.9 899.2 912.4 925.6 938.9 952.1 965.3 978.6 991.8 1005 1018.2 1031.5"><tspan class="k">NT</tspan>TE<tspan class="k">P</tspan>G<tspan class="k">N</tspan>LTP<tspan class="k">V</tspan>RD<tspan class="k">S</tspan>P<tspan class="k">AI</tspan>PRLRSV<tspan class="k">N</tspan>SY<tspan class="k">T</tspan>NIRA<tspan class="k">A</tspan>TTAR<tspan class="k">N</tspan>LNKSLQNL<tspan class="k">N</tspan>L<tspan class="k">N</tspan>EE<tspan class="k">-</tspan>G<tspan class="k">GPA</tspan>AFSPGNLSTSSSASS</text>
<g class="num"><text x="1041" y="13">767</text><text x="1041" y="29.5">767</text><text x="1041" y="46">756</text><text x="1041" y="62.5">767</text><text x="1041" y="79">703</text><text x="1041" y="95.5">769</text><text x="1041" y="112">769</text><text x="1041" y="128.5">769</text></g>
<rect class="box" x="216.6" y="-1" width="15.6" height="135"/>
<rect class="box" x="388.6" y="-1" width="15.6" height="135"/>
</g>

<!-- Block C2 -->
<g id="C2" transform="translate(0,857)">
<g transform="translate(112,0) scale(13.23,16.5)">
<rect class="g" x="0" y="0" width="5" height="8"/>
<rect class="g" x="6" y="0" width="1" height="8"/>
<rect class="g" x="8" y="0" width="47" height="8"/>
<rect class="g" x="56" y="0" width="1" height="8"/>
<rect class="g" x="58" y="0" width="3" height="8"/>
<rect class="g" x="62" y="0" width="8" height="8"/>
<rect class="p" x="5" y="0" width="1" height="8"/>
<rect class="p" x="7" y="0" width="1" height="8"/>
<rect class="p" x="55" y="0" width="1" height="8"/>
<rect class="p" x="57" y="0" width="1" height="8"/>
<rect class="p" x="61" y="0" width="1" height="8"/>
<rect class="w" x="9" y="0" width="1" height="1"/>
<rect class="w" x="22" y="0" width="1" height="1"/>
<rect class="p" x="27" y="1" width="1" height="1"/>
<rect class="p" x="10" y="6" width="1" height="1"/>
</g>
<use href="#nm"/>
<text class="s" y="13" x="118.6 131.8 145.1 158.3 171.5 184.8 198 211.2 224.4 237.7 250.9 264.1 277.4 290.6 303.8 317.1 330.3 343.5 356.7 370 383.2 396.4 409.7 422.9 436.1 449.4 462.6 475.8 489 502.3 515.5 528.7 542 555.2 568.4 581.7 594.9 608.1 621.3 634.6 647.8 661 674.3 687.5 700.7 714 727.2 740.4 753.6 766.9 780.1 793.3 806.6 819.8 833 846.3 859.5 872.7 885.9 899.2 912.4 925.6 938.9 952.1 965.3 978.6 991.8 1005 1018.2 1031.5">TLGSP<tspan class="k">E</tspan>N<tspan class="k">E</tspan>E<tspan class="k">H</tspan>ILSFETIDKMRR<tspan class="k">A</tspan>SSYSSLNSLIGVSFNSVYTQIWRVLLHLAADP<tspan class="k">Y</tspan>P<tspan class="k">E</tspan>VSD<tspan class="k">V</tspan>AMKVLNSI</text>
<text class="s" y="29.5" x="118.6 131.8 145.1 158.3 171.5 184.8 198 211.2 224.4 237.7 250.9 264.1 277.4 290.6 303.8 317.1 330.3 343.5 356.7 370 383.2 396.4 409.7 422.9 436.1 449.4 462.6 475.8 489 502.3 515.5 528.7 542 555.2 568.4 581.7 594.9 608.1 621.3 634.6 647.8 661 674.3 687.5 700.7 714 727.2 740.4 753.6 766.9 780.1 793.3 806.6 819.8 833 846.3 859.5 872.7 885.9 899.2 912.4 925.6 938.9 952.1 965.3 978.6 991.8 1005 1018.2 1031.5">TLGSP<tspan class="k">E</tspan>N<tspan class="k">E</tspan>EYILSFETIDKMRRVSSYS<tspan class="k">A</tspan>LNSLIGVSFNSVYTQIWRVLLHLAADP<tspan class="k">Y</tspan>P<tspan class="k">D</tspan>VSD<tspan class="k">L</tspan>AMKVLNSI</text>
<text class="s" y="46" x="118.6 131.8 145.1 158.3 171.5 184.8 198 211.2 224.4 237.7 250.9 264.1 277.4 290.6 303.8 317.1 330.3 343.5 356.7 370 383.2 396.4 409.7 422.9 436.1 449.4 462.6 475.8 489 502.3 515.5 528.7 542 555.2 568.4 581.7 594.9 608.1 621.3 634.6 647.8 661 674.3 687.5 700.7 714 727.2 740.4 753.6 766.9 780.1 793.3 806.6 819.8 833 846.3 859.5 872.7 885.9 899.2 912.4 925.6 938.9 952.1 965.3 978.6 991.8 1005 1018.2 1031.5">TLGSP<tspan class="k">E</tspan>N<tspan class="k">E</tspan>EYILSFETIDKMRRVSSYSSLNSLIGVSFNSVYTQIWRVLLHLAADP<tspan class="k">Y</tspan>P<tspan class="k">D</tspan>VSD<tspan class="k">L</tspan>AMKVLNSI</text>
<text class="s" y="62.5" x="118.6 131.8 145.1 158.3 171.5 184.8 198 211.2 224.4 237.7 250.9 264.1 277.4 290.6 303.8 317.1 330.3 343.5 356.7 370 383.2 396.4 409.7 422.9 436.1 449.4 462.6 475.8 489 502.3 515.5 528.7 542 555.2 568.4 581.7 594.9 608.1 621.3 634.6 647.8 661 674.3 687.5 700.7 714 727.2 740.4 753.6 766.9 780.1 793.3 806.6 819.8 833 846.3 859.5 872.7 885.9 899.2 912.4 925.6 938.9 952.1 965.3 978.6 991.8 1005 1018.2 1031.5">TLGSP<tspan class="k">E</tspan>N<tspan class="k">E</tspan>EYILSFETIDKMRRVSSYSSLNSLIGVSFNSVYTQIWRVLLHLAADP<tspan class="k">Y</tspan>P<tspan class="k">D</tspan>VSD<tspan class="k">V</tspan>AMKVLNSI</text>
<text class="s" y="79" x="118.6 131.8 145.1 158.3 171.5 184.8 198 211.2 224.4 237.7 250.9 264.1 277.4 290.6 303.8 317.1 330.3 343.5 356.7 370 383.2 396.4 409.7 422.9 436.1 449.4 462.6 475.8 489 502.3 515.5 528.7 542 555.2 568.4 581.7 594.9 608.1 621.3 634.6 647.8 661 674.3 687.5 700.7 714 727.2 740.4 753.6 766.9 780.1 793.3 806.6 819.8 833 846.3 859.5 872.7 885.9 899.2 912.4 925.6 938.9 952.1 965.3 978.6 991.8 1005 1018.2 1031.5">TLGSP<tspan class="k">D</tspan>N<tspan class="k">E</tspan>EYILSFETIDKMRRVSSYSSLNSLIGVSFNSVYTQIWRVLLHLAADP<tspan class="k">Y</tspan>P<tspan class="k">E</tspan>VSD<tspan class="k">L</tspan>AMKVLNSI</text>
<text class="s" y="95.5" x="118.6 131.8 145.1 158.3 171.5 184.8 198 211.2 224.4 237.7 250.9 264.1 277.4 290.6 303.8 317.1 330.3 343.5 356.7 370 383.2 396.4 409.7 422.9 436.1 449.4 462.6 475.8 489 502.3 515.5 528.7 542 555.2 568.4 581.7 594.9 608.1 621.3 634.6 647.8 661 674.3 687.5 700.7 714 727.2 740.4 753.6 766.9 780.1 793.3 806.6 819.8 833 846.3 859.5 872.7 885.9 899.2 912.4 925.6 938.9 952.1 965.3 978.6 991.8 1005 1018.2 1031.5">TLGSP<tspan class="k">D</tspan>N<tspan class="k">D</tspan>EYILSFETIDKMRRVSSYSSLNSLIGVSFNSVYTQIWRVLLHLAADP<tspan class="k">F</tspan>P<tspan class="k">E</tspan>VSD<tspan class="k">L</tspan>AMKVLNSI</text>
<text class="s" y="112" x="118.6 131.8 145.1 158.3 171.5 184.8 198 211.2 224.4 237.7 250.9 264.1 277.4 290.6 303.8 317.1 330.3 343.5 356.7 370 383.2 396.4 409.7 422.9 436.1 449.4 462.6 475.8 489 502.3 515.5 528.7 542 555.2 568.4 581.7 594.9 608.1 621.3 634.6 647.8 661 674.3 687.5 700.7 714 727.2 740.4 753.6 766.9 780.1 793.3 806.6 819.8 833 846.3 859.5 872.7 885.9 899.2 912.4 925.6 938.9 952.1 965.3 978.6 991.8 1005 1018.2 1031.5">TLGSP<tspan class="k">D</tspan>N<tspan class="k">D</tspan>EY<tspan class="k">L</tspan>LSFETIDKMRRVSSYSSLNSLIGVSFNSVYTQIWRVLLHLAADP<tspan class="k">F</tspan>P<tspan class="k">D</tspan>VSD<tspan class="k">L</tspan>AMKVLNSI</text>
<text class="s" y="128.5" x="118.6 131.8 145.1 158.3 171.5 184.8 198 211.2 224.4 237.7 250.9 264.1 277.4 290.6 303.8 317.1 330.3 343.5 356.7 370 383.2 396.4 409.7 422.9 436.1 449.4 462.6 475.8 489 502.3 515.5 528.7 542 555.2 568.4 581.7 594.9 608.1 621.3 634.6 647.8 661 674.3 687.5 700.7 714 727.2 740.4 753.6 766.9 780.1 793.3 806.6 819.8 833 846.3 859.5 872.7 885.9 899.2 912.4 925.6 938.9 952.1 965.3 978.6 991.8 1005 1018.2 1031.5">TLGSP<tspan class="k">D</tspan>N<tspan class="k">D</tspan>EYILSFETIDKMRRVSSYSSLNSLIGVSFNSVYTQIWRVLLHLAADP<tspan class="k">F</tspan>P<tspan class="k">E</tspan>VSD<tspan class="k">L</tspan>AMKVLNSI</text>
<g class="num"><text x="1041" y="13">837</text><text x="1041" y="29.5">837</text><text x="1041" y="46">826</text><text x="1041" y="62.5">837</text><text x="1041" y="79">773</text><text x="1041" y="95.5">839</text><text x="1041" y="112">839</text><text x="1041" y="128.5">839</text></g>
</g>

<!-- Block C3 -->
<g id="C3" transform="translate(0,1006)">
<g transform="translate(112,0) scale(13.23,16.5)">
<rect class="g" x="0" y="0" width="3" height="8"/>
<rect class="g" x="12" y="0" width="2" height="8"/>
<rect class="g" x="15" y="0" width="9" height="8"/>
<rect class="g" x="26" y="0" width="11" height="8"/>
<rect class="g" x="38" y="0" width="2" height="8"/>
<rect class="g" x="41" y="0" width="4" height="8"/>
<rect class="g" x="46" y="0" width="1" height="8"/>
<rect class="g" x="60" y="0" width="4" height="8"/>
<rect class="g" x="66" y="0" width="1" height="8"/>
<rect class="g" x="68" y="0" width="2" height="8"/>
<rect class="p" x="25" y="0" width="1" height="8"/>
<rect class="w" x="1" y="4" width="1" height="1"/>
<rect class="p" x="21" y="0" width="1" height="1"/>
<rect class="w" x="18" y="6" width="1" height="1"/>
<rect class="w" x="42" y="1" width="1" height="1"/>
<rect class="w" x="41" y="6" width="1" height="1"/>
<rect class="p" x="66" y="6" width="1" height="1"/>
<rect class="w" x="69" y="3" width="1" height="1"/>
</g>
<use href="#nm"/>
<text class="s" y="13" x="118.6 131.8 145.1 158.3 171.5 184.8 198 211.2 224.4 237.7 250.9 264.1 277.4 290.6 303.8 317.1 330.3 343.5 356.7 370 383.2 396.4 409.7 422.9 436.1 449.4 462.6 475.8 489 502.3 515.5 528.7 542 555.2 568.4 581.7 594.9 608.1 621.3 634.6 647.8 661 674.3 687.5 700.7 714 727.2 740.4 753.6 766.9 780.1 793.3 806.6 819.8 833 846.3 859.5 872.7 885.9 899.2 912.4 925.6 938.9 952.1 965.3 978.6 991.8 1005 1018.2 1031.5">AYK<tspan class="k">---------</tspan>AT<tspan class="k">V</tspan>NARPQR<tspan class="k">V</tspan>LD<tspan class="k">TS</tspan>SLTQSAPASPT<tspan class="k">N</tspan>KG<tspan class="k">V</tspan>HIHQ<tspan class="k">A</tspan>G<tspan class="k">-------------</tspan>GSPP<tspan class="k">AS</tspan>S<tspan class="k">T</tspan>SS</text>
<text class="s" y="29.5" x="118.6 131.8 145.1 158.3 171.5 184.8 198 211.2 224.4 237.7 250.9 264.1 277.4 290.6 303.8 317.1 330.3 343.5 356.7 370 383.2 396.4 409.7 422.9 436.1 449.4 462.6 475.8 489 502.3 515.5 528.7 542 555.2 568.4 581.7 594.9 608.1 621.3 634.6 647.8 661 674.3 687.5 700.7 714 727.2 740.4 753.6 766.9 780.1 793.3 806.6 819.8 833 846.3 859.5 872.7 885.9 899.2 912.4 925.6 938.9 952.1 965.3 978.6 991.8 1005 1018.2 1031.5">AYK<tspan class="k">---------</tspan>AT<tspan class="k">V</tspan>NARPQRILD<tspan class="k">TS</tspan>SLTQSAPASPT<tspan class="k">N</tspan>KG<tspan class="k">M</tspan>H<tspan class="k">M</tspan>HQ<tspan class="k">V</tspan>G<tspan class="k">-------------</tspan>GSPP<tspan class="k">AS</tspan>S<tspan class="k">T</tspan>SS</text>
<text class="s" y="46" x="118.6 131.8 145.1 158.3 171.5 184.8 198 211.2 224.4 237.7 250.9 264.1 277.4 290.6 303.8 317.1 330.3 343.5 356.7 370 383.2 396.4 409.7 422.9 436.1 449.4 462.6 475.8 489 502.3 515.5 528.7 542 555.2 568.4 581.7 594.9 608.1 621.3 634.6 647.8 661 674.3 687.5 700.7 714 727.2 740.4 753.6 766.9 780.1 793.3 806.6 819.8 833 846.3 859.5 872.7 885.9 899.2 912.4 925.6 938.9 952.1 965.3 978.6 991.8 1005 1018.2 1031.5">AYK<tspan class="k">---------</tspan>AT<tspan class="k">V</tspan>NARPQRILD<tspan class="k">TS</tspan>SLTQSAPASPT<tspan class="k">N</tspan>KG<tspan class="k">M</tspan>HIHQ<tspan class="k">V</tspan>G<tspan class="k">-------------</tspan>GSPP<tspan class="k">TT</tspan>S<tspan class="k">T</tspan>SS</text>
<text class="s" y="62.5" x="118.6 131.8 145.1 158.3 171.5 184.8 198 211.2 224.4 237.7 250.9 264.1 277.4 290.6 303.8 317.1 330.3 343.5 356.7 370 383.2 396.4 409.7 422.9 436.1 449.4 462.6 475.8 489 502.3 515.5 528.7 542 555.2 568.4 581.7 594.9 608.1 621.3 634.6 647.8 661 674.3 687.5 700.7 714 727.2 740.4 753.6 766.9 780.1 793.3 806.6 819.8 833 846.3 859.5 872.7 885.9 899.2 912.4 925.6 938.9 952.1 965.3 978.6 991.8 1005 1018.2 1031.5">AYK<tspan class="k">---------</tspan>AT<tspan class="k">V</tspan>NARPQRILD<tspan class="k">SS</tspan>SLTQSAPASPT<tspan class="k">N</tspan>KG<tspan class="k">M</tspan>HIHQ<tspan class="k">V</tspan>G<tspan class="k">-------------</tspan>GSPP<tspan class="k">TT</tspan>S<tspan class="k">T</tspan>S<tspan class="k">I</tspan></text>
<text class="s" y="79" x="118.6 131.8 145.1 158.3 171.5 184.8 198 211.2 224.4 237.7 250.9 264.1 277.4 290.6 303.8 317.1 330.3 343.5 356.7 370 383.2 396.4 409.7 422.9 436.1 449.4 462.6 475.8 489 502.3 515.5 528.7 542 555.2 568.4 581.7 594.9 608.1 621.3 634.6 647.8 661 674.3 687.5 700.7 714 727.2 740.4 753.6 766.9 780.1 793.3 806.6 819.8 833 846.3 859.5 872.7 885.9 899.2 912.4 925.6 938.9 952.1 965.3 978.6 991.8 1005 1018.2 1031.5">A<tspan class="k">H</tspan>K<tspan class="k">---------</tspan>AT<tspan class="k">V</tspan>NARPQRILD<tspan class="k">AS</tspan>SLTQSAPASPT<tspan class="k">N</tspan>KG<tspan class="k">M</tspan>HIHQ<tspan class="k">V</tspan>G<tspan class="k">-------------</tspan>GSPP<tspan class="k">TP</tspan>S<tspan class="k">A</tspan>SS</text>
<text class="s" y="95.5" x="118.6 131.8 145.1 158.3 171.5 184.8 198 211.2 224.4 237.7 250.9 264.1 277.4 290.6 303.8 317.1 330.3 343.5 356.7 370 383.2 396.4 409.7 422.9 436.1 449.4 462.6 475.8 489 502.3 515.5 528.7 542 555.2 568.4 581.7 594.9 608.1 621.3 634.6 647.8 661 674.3 687.5 700.7 714 727.2 740.4 753.6 766.9 780.1 793.3 806.6 819.8 833 846.3 859.5 872.7 885.9 899.2 912.4 925.6 938.9 952.1 965.3 978.6 991.8 1005 1018.2 1031.5">AYK<tspan class="k">ALSLSLSPQ</tspan>AT<tspan class="k">M</tspan>NARPQRILD<tspan class="k">SG</tspan>SLTQSAPASPT<tspan class="k">S</tspan>KG<tspan class="k">A</tspan>HIHQ<tspan class="k">A</tspan>G<tspan class="k">-------------</tspan>GSPP<tspan class="k">MP</tspan>S<tspan class="k">A</tspan>SS</text>
<text class="s" y="112" x="118.6 131.8 145.1 158.3 171.5 184.8 198 211.2 224.4 237.7 250.9 264.1 277.4 290.6 303.8 317.1 330.3 343.5 356.7 370 383.2 396.4 409.7 422.9 436.1 449.4 462.6 475.8 489 502.3 515.5 528.7 542 555.2 568.4 581.7 594.9 608.1 621.3 634.6 647.8 661 674.3 687.5 700.7 714 727.2 740.4 753.6 766.9 780.1 793.3 806.6 819.8 833 846.3 859.5 872.7 885.9 899.2 912.4 925.6 938.9 952.1 965.3 978.6 991.8 1005 1018.2 1031.5">AYK<tspan class="k">---------</tspan>AT<tspan class="k">M</tspan>NAR<tspan class="k">T</tspan>QRILD<tspan class="k">SG</tspan>SLTQSAPASPT<tspan class="k">S</tspan>KG<tspan class="k">TL</tspan>IHQ<tspan class="k">A</tspan>G<tspan class="k">ASHRSKCSSSPSS</tspan>GSPP<tspan class="k">MPGA</tspan>SS</text>
<text class="s" y="128.5" x="118.6 131.8 145.1 158.3 171.5 184.8 198 211.2 224.4 237.7 250.9 264.1 277.4 290.6 303.8 317.1 330.3 343.5 356.7 370 383.2 396.4 409.7 422.9 436.1 449.4 462.6 475.8 489 502.3 515.5 528.7 542 555.2 568.4 581.7 594.9 608.1 621.3 634.6 647.8 661 674.3 687.5 700.7 714 727.2 740.4 753.6 766.9 780.1 793.3 806.6 819.8 833 846.3 859.5 872.7 885.9 899.2 912.4 925.6 938.9 952.1 965.3 978.6 991.8 1005 1018.2 1031.5">AYK<tspan class="k">---------</tspan>AT<tspan class="k">M</tspan>NARPQRILD<tspan class="k">SG</tspan>SLTQSAPASPT<tspan class="k">S</tspan>KG<tspan class="k">T</tspan>HIHQ<tspan class="k">A</tspan>G<tspan class="k">-------------</tspan>GSPP<tspan class="k">MP</tspan>S<tspan class="k">T</tspan>SS</text>
<g class="num"><text x="1041" y="13">885</text><text x="1041" y="29.5">885</text><text x="1041" y="46">874</text><text x="1041" y="62.5">885</text><text x="1041" y="79">821</text><text x="1041" y="95.5">896</text><text x="1041" y="112">900</text><text x="1041" y="128.5">887</text></g>
<rect class="box" x="454.8" y="-1" width="15.6" height="135"/>
<rect class="box" x="507.7" y="-1" width="15.6" height="135"/>
<rect class="box" x="560.6" y="-1" width="15.6" height="135"/>
<rect class="box" x="917.8" y="-1" width="15.6" height="135"/>
</g>
</svg>
